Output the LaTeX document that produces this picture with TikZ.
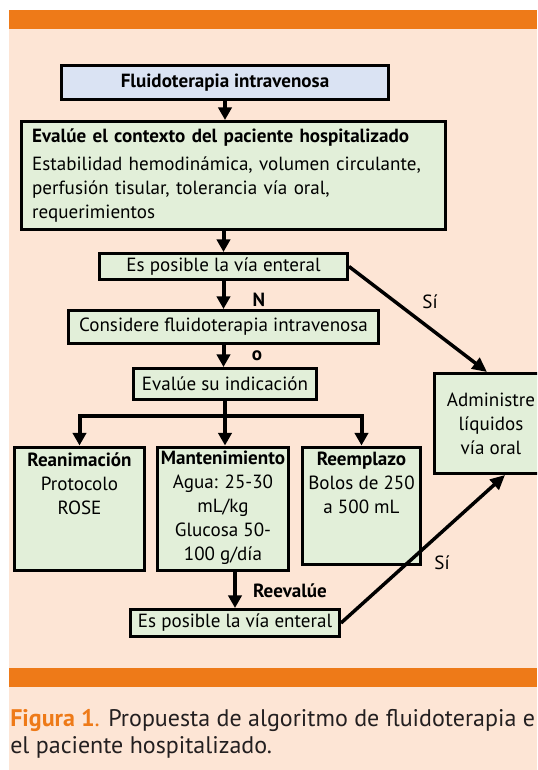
\documentclass[tikz,border=0pt]{standalone}
\usepackage{fontspec}
\setmainfont{PT Sans}
\usetikzlibrary{arrows.meta,calc,positioning}

\definecolor{barorange}{HTML}{EE7A18}
\definecolor{peach}{HTML}{FDE5D5}
\definecolor{boxblue}{HTML}{DAE3F3}
\definecolor{boxgreen}{HTML}{E2EFD9}
\definecolor{captext}{HTML}{231F20}

\newcommand{\topbox}[3]{\parbox[c][#2][t]{#1}{\centering #3}}

\begin{document}
\begin{tikzpicture}[x=0.75pt,y=-0.75pt,
  box/.style={draw,line width=2.25pt,fill=boxgreen,inner sep=0pt,align=center,font=\fontsize{14.3}{18}\selectfont},
  arr/.style={line width=3pt,-{Triangle[width=10pt,length=9.5pt]}},
  diag/.style={line width=2.6pt,-{Triangle[width=10pt,length=11pt]}},
  lab/.style={inner sep=0pt,font=\fontsize{14.3}{16}\selectfont},
  capt/.style={inner sep=0pt,text=captext,font=\fontsize{18}{20}\selectfont}]

\useasboundingbox (0,0) rectangle (537,770);
\clip (0,0) rectangle (537,770);

% background and bars
\fill[peach] (9,10) rectangle (537,770);
\fill[barorange] (9,10) rectangle (537,29);
\fill[barorange] (9,668) rectangle (537,687);

% main column
\node[box,fill=boxblue,minimum width=245pt,minimum height=25.5pt] (b1) at (225,82.5) {\textbf{Fluidoterapia intravenosa}};
\node[box,minimum width=318pt,minimum height=81pt,text width=302pt,align=left] (b2) at (233.5,175.5)
  {\textbf{Evalúe el contexto del paciente hospitalizado}\\[3pt]
   Estabilidad hemodinámica, volumen circulante,\\
   perfusión tisular, tolerancia vía oral,\\
   requerimientos};
\node[box,minimum width=186pt,minimum height=19.5pt] (b3) at (223.5,266.5) {Es posible la vía enteral};
\node[box,minimum width=232.5pt,minimum height=24.75pt] (b4) at (223.5,327) {Considere fluidoterapia intravenosa};
\node[box,minimum width=137.25pt,minimum height=23.25pt] (b5) at (225,384) {Evalúe su indicación};

% three kinds of fluid
\node[box,anchor=north,minimum width=97.5pt,minimum height=92.25pt] (b6) at (79.5,445.5)
  {\topbox{95pt}{84pt}{\textbf{Reanimación}\\ Protocolo\\ ROSE}};
\node[box,minimum width=98.25pt,minimum height=92.25pt,right=7.5pt of b6] (b7)
  {\topbox{98pt}{86pt}{\textbf{Mantenimiento}\\ Agua: 25-30\\ mL/kg\\ Glucosa 50-\\ 100 g/día}};
\node[box,minimum width=88.5pt,minimum height=87.75pt,right=8.25pt of b7.north east,anchor=north west] (b8)
  {\topbox{88pt}{80pt}{\textbf{Reemplazo}\\ Bolos de 250\\ a 500 mL}};

\node[box,minimum width=84.75pt,minimum height=75pt] (b9) at (491,423.5) {Administre\\ líquidos\\ vía oral};
\node[box,minimum width=156.75pt,minimum height=20.25pt] (b10) at (235,623) {Es posible la vía enteral};

% connectors
\draw[arr] (b1.south) -- (b1.south |- b2.north);
\draw[arr] (b3.north |- b2.south) -- (b3.north);
\draw[arr] (b3.south) -- (b4.north);
\draw[arr] (b4.south) -- (b4.south |- b5.north);
\coordinate (split) at ($(b5.south)+(0,15)$);
\draw[line width=3pt] (b5.south) -- (split);
\draw[arr] (split) -| (b6.north);
\draw[arr] (split) -| (b8.north);
\draw[arr] (split) -- (split |- b7.north);
\draw[arr] (b10.north |- b7.south) -- (b10.north);
\draw[diag] (b3.east) -- ($(b9.north west)+(54,0)$);
\draw[diag] (b10.east) -- ($(b9.south west)+(72,0)$);

% labels
\node[lab] (lN) at (259,300) {\textbf{N}};
\node[lab] (lo) at (257,356) {\textbf{o}};
\node[lab] (si1) at (430,302) {Sí};
\node[lab] (si2) at (442,563) {Sí};
\node[lab] (lre) at (290,591) {\textbf{Reevalúe}};

% caption
\node[capt,anchor=base west] (cap1) at (10,726)
  {\textcolor{barorange}{\textbf{Figura 1}.} Propuesta de algoritmo de fluidoterapia e};
\node[capt,anchor=base west] (cap2) at ($(cap1.base west)+(0,27)$) {el paciente hospitalizado.};

\end{tikzpicture}
\end{document}
